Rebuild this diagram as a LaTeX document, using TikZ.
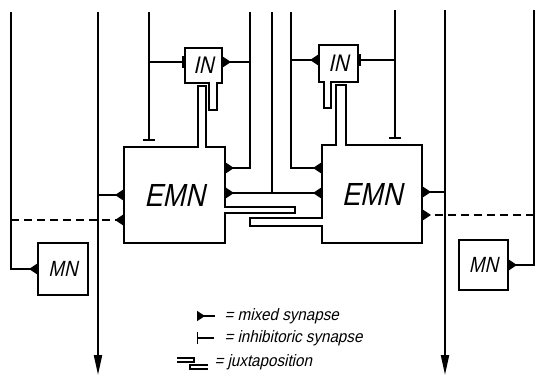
\documentclass[tikz,border=0pt]{standalone}
\usepackage{fontspec}
\newfontfamily\lblfont[FakeSlant=0.22,FakeStretch=0.85]{Liberation Sans}
\newfontfamily\legfont[FakeSlant=0.22,FakeStretch=0.92]{Liberation Sans}
\usetikzlibrary{arrows.meta}
\tikzset{
  wire/.style={line width=2pt},
  neuron/.style={draw, rectangle, line width=2pt, inner sep=0pt},
  mixed/.style={-{Triangle[reversed,length=8pt,width=10pt]}},
  inhib/.style={-{Bar[width=12pt]}},
  axon/.style={-{Triangle[length=20pt,width=8pt]}},
  dashline/.style={dash pattern=on 8pt off 5pt},
  legtext/.style={anchor=west, font=\legfont\fontsize{16.5}{17}\selectfont},
}
\begin{document}
\begin{tikzpicture}[x=1pt,y=-1pt]
\useasboundingbox (0,0) rectangle (535,376);
% neurons
\node[neuron, minimum width=101pt, minimum height=96pt, font=\lblfont\fontsize{32}{34}\selectfont] (EMN1) at (174.5,195) {EMN};
\node[neuron, minimum width=100pt, minimum height=98pt, font=\lblfont\fontsize{32}{34}\selectfont] (EMN2) at (372,194) {EMN};
\node[neuron, minimum width=37pt, minimum height=35pt, font=\lblfont\fontsize{24}{26}\selectfont] (IN1) at (203.5,65.5) {IN};
\node[neuron, minimum width=39pt, minimum height=37pt, font=\lblfont\fontsize{24}{26}\selectfont] (IN2) at (338.5,63.5) {IN};
\node[neuron, minimum width=50pt, minimum height=52pt, font=\lblfont\fontsize{22}{24}\selectfont] (MN1) at (63,269) {MN};
\node[neuron, minimum width=49pt, minimum height=50pt, font=\lblfont\fontsize{22}{24}\selectfont] (MN2) at (483.5,265) {MN};
% line ends
\coordinate (tL) at (11,12);  \coordinate (dL) at (11,220);
\coordinate (tA) at (98,12);  \coordinate (bA) at (98,375); \coordinate (jA) at (98,195);
\coordinate (tB) at (149,12); \coordinate (eB) at (149,141); \coordinate (jB) at (149,62);
\coordinate (tC) at (250,12); \coordinate (jC) at (250,62); \coordinate (kC) at (250,168);
\coordinate (tD) at (272,12); \coordinate (eD) at (272,193);
\coordinate (tE) at (291,12); \coordinate (jE) at (291,60); \coordinate (kE) at (291,168);
\coordinate (tF) at (395,10); \coordinate (eF) at (395,139); \coordinate (jF) at (395,60);
\coordinate (tG) at (445,10); \coordinate (bG) at (445,375); \coordinate (jG) at (445,192);
\coordinate (tH) at (534,10); \coordinate (dR) at (534,215);
% connectors
\draw[wire,mixed] (tL) |- (MN1.west);
\draw[wire,dashline,mixed] (dL) -- (dL -| EMN1.west);
\draw[wire,axon] (tA) -- (bA);
\draw[wire,mixed] (jA) -- (jA -| EMN1.west);
\draw[wire,inhib] (tB) -- (eB);
\draw[wire,inhib] (jB) -- (jB -| IN1.west);
\draw[wire,mixed] (tC) |- (kC -| EMN1.east);
\draw[wire,mixed] (jC) -- (jC -| IN1.east);
\draw[wire] (tD) -- (eD);
\draw[wire,{Triangle[reversed,length=8pt,width=10pt]}-{Triangle[reversed,length=8pt,width=10pt]}] (eD -| EMN1.east) -- (eD -| EMN2.west);
\draw[wire,mixed] (tE) |- (kE -| EMN2.west);
\draw[wire,mixed] (jE) -- (jE -| IN2.west);
\draw[wire,inhib] (tF) -- (eF);
\draw[wire,inhib] (jF) -- (jF -| IN2.east);
\draw[wire,axon] (tG) -- (bG);
\draw[wire,mixed] (jG) -- (jG -| EMN2.east);
\draw[wire,dashline,mixed] (dR) -- (dR -| EMN2.east);
\draw[wire,mixed] (tH) |- (MN2.east);
% juxtapositions IN - EMN (left)
\fill[white] (198.9,86.9) rectangle (205.1,148.5);
\draw[wire] (198,147) -- (198,86) -- (206,86) -- (206,147);
\fill[white] (209.9,81.5) rectangle (216.1,109);
\draw[wire] (209,83) -- (209,110) -- (217,110) -- (217,83);
% juxtapositions IN - EMN (right)
\fill[white] (324.9,80.5) rectangle (330.1,107);
\draw[wire] (324,82) -- (324,108) -- (331,108) -- (331,82);
\fill[white] (336.9,85.9) rectangle (345.1,146.5);
\draw[wire] (336,145) -- (336,85) -- (346,85) -- (346,145);
% juxtaposition EMN - EMN
\fill[white] (223.5,207.9) rectangle (294.1,212.1);
\draw[wire] (225,207) -- (295,207) -- (295,213) -- (225,213);
\fill[white] (250.9,218.9) rectangle (323.5,225.1);
\draw[wire] (322,218) -- (250,218) -- (250,226) -- (322,226);
% legend
\coordinate (L1a) at (197,316); \coordinate (L1b) at (215,316);
\draw[line width=1.4pt,mixed] (L1b) -- (L1a);
\node[legtext] (T1) at (221,316) {= mixed synapse};
\coordinate (L2a) at (197,338); \coordinate (L2b) at (214,338);
\draw[line width=1.2pt,inhib] (L2b) -- (L2a);
\node[legtext] (T2) at (221,338) {= inhibitoric synapse};
\draw[line width=1.3pt] (177,358) -- (194,358) -- (194,362) -- (177,362);
\draw[line width=1.3pt] (208,365) -- (190,365) -- (190,369) -- (208,369);
\node[legtext] (T3) at (211,362) {= juxtaposition};
\end{tikzpicture}
\end{document}
